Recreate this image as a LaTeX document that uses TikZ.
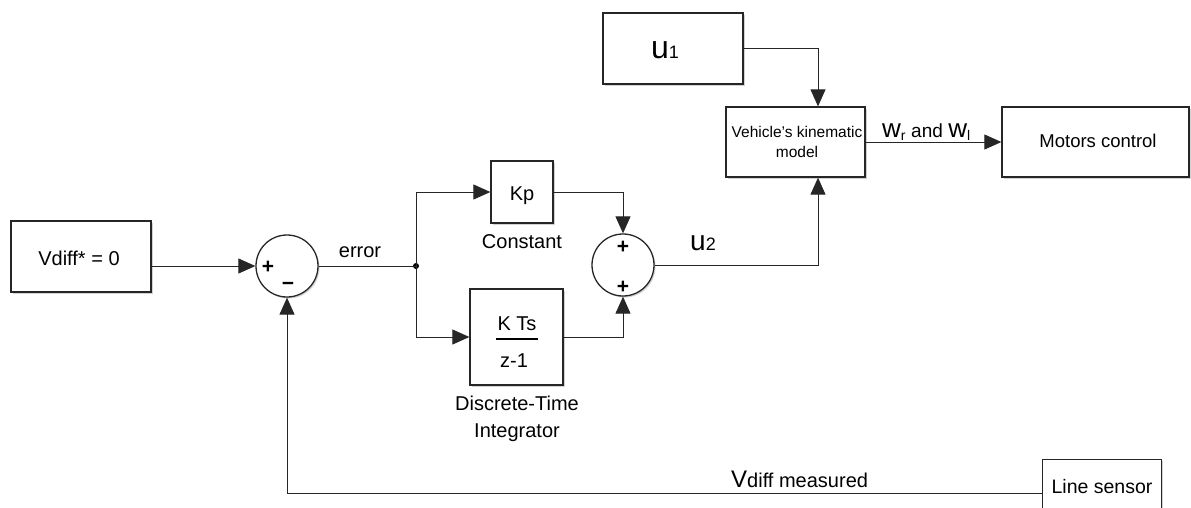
\documentclass[tikz,border=0pt]{standalone}
\usepackage{fontspec}
\setmainfont{Liberation Sans}
\usetikzlibrary{arrows.meta,shadows,calc}
\newcommand{\fsz}[1]{\fontsize{#1}{#1}\selectfont}
\begin{document}
\begin{tikzpicture}[x=1pt,y=-1pt,
  shad/.style={drop shadow={shadow xshift=1.5pt,shadow yshift=-1.5pt,opacity=0.35,fill=gray}},
  blk/.style={rectangle,draw=black!85,line width=1.3pt,fill=white,inner sep=0pt,shad},
  sumc/.style={circle,draw=black!85,line width=1.3pt,fill=white,inner sep=0pt,minimum size=62pt,shad},
  wire/.style={line width=0.9pt,draw=black!85},
  arr/.style={wire,-{Triangle[length=17pt,width=15pt]}},
  txt/.style={inner sep=0pt,anchor=base,font=\fsz{20}},
  sgn/.style={inner sep=0pt,font=\fsz{21}\bfseries},
]
\clip (0,0) rectangle (1191,507);
\fill[white] (0,0) rectangle (1191,507);

% blocks
\node[blk,minimum width=140pt,minimum height=71pt] (vd) at (81,256.5) {};
\node[txt] (vdt) at (79,265) {Vdiff* = 0};

\node[sumc] (s1) at (287,266) {};
\node[sgn] (s1p) at (268,267) {+};
\node[sgn] (s1m) at (288,286) {−};

\node[circle,fill=black,inner sep=0pt,minimum size=6pt] (j) at (416,266) {};

\node[blk,minimum width=62pt,minimum height=62pt] (kp) at (522,192) {};
\node[txt] (kpt) at (522,200) {Kp};
\node[txt] (kpl) at (522,248) {Constant};

\node[blk,minimum width=93pt,minimum height=96pt] (int) at (516.5,337) {};
\node[txt] (intn) at (517,330) {K Ts};
\draw[line width=1.3pt] (496,339) -- (538,339);
\node[txt] (intd) at (514,367) {z-1};
\node[txt] (intl1) at (517,410) {Discrete-Time};
\node[txt] (intl2) at (517,437) {Integrator};

\node[sumc] (s2) at (623,265) {};
\node[sgn] (s2a) at (623,247) {+};
\node[sgn] (s2b) at (623,287) {+};

\node[blk,minimum width=140pt,minimum height=71pt] (u1) at (673,48.5) {};
\node[txt] (u1t) at (665,58) {{\fsz{32}u}{\fsz{18}1}};

\node[blk,minimum width=139pt,minimum height=70pt] (veh) at (795.5,142) {};
\node[txt,font=\fsz{15.5}] (veht1) at (797,137) {Vehicle's kinematic};
\node[txt,font=\fsz{15.5}] (veht2) at (797,157) {model};

\node[blk,minimum width=187pt,minimum height=70pt] (mot) at (1095.5,142) {};
\node[txt,font=\fsz{18.5}] (mott) at (1098,147) {Motors control};

\node[blk,minimum width=119pt,minimum height=70pt,anchor=north west] (ls) at (1042,459) {};
\node[txt,font=\fsz{19.5}] (lst) at (1102,493) {Line sensor};

% labels
\node[txt] (err) at (360,257) {error};
\node[txt,anchor=base west] (u2l) at (690,250) {{\fsz{28}u}{\fsz{18}2}};
\node[txt,anchor=base west] (wl) at (882,137) {{\fsz{26}w}\raisebox{-3pt}{\fsz{14}r} {\fsz{19}and} {\fsz{26}w}\raisebox{-3pt}{\fsz{14}l}};
\node[txt,anchor=base west] (vml) at (731,487) {{\fsz{24}V}{\fsz{20}diff measured}};

% connectors
\coordinate (vx) at (818,0);
\coordinate (fb) at (0,493);
\draw[arr] (vd.east |- s1.west) -- (s1.west);
\draw[wire] (s1.east) -- (j.center);
\draw[arr] (j.center) |- (kp.west);
\draw[arr] (j.center) |- (int.west);
\draw[arr] (kp.east) -| (s2.north);
\draw[arr] (int.east) -| (s2.south);
\draw[arr] (s2.east) -| (vx |- veh.south);
\draw[arr] (u1.east) -| (vx |- veh.north);
\draw[arr] (veh.east) -- (mot.west);
\draw[arr] (ls.north west |- fb) -| (s1.south);
\end{tikzpicture}
\end{document}
